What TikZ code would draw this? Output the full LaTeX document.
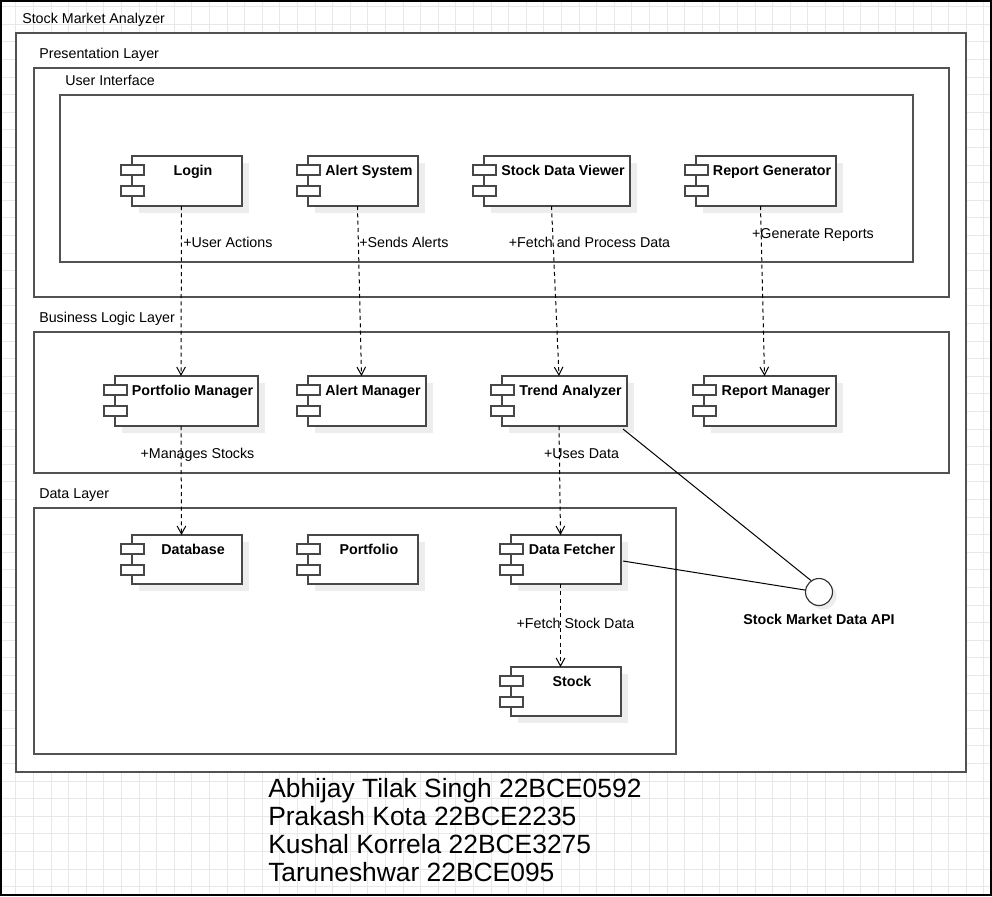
\documentclass[tikz,border=0pt]{standalone}
\usepackage{fontspec}
\setmainfont{Liberation Sans}
\usetikzlibrary{arrows.meta}
\newcommand{\ucomp}[6]{%
  \fill[shadowc] (#2+7,#3+7) rectangle (#4+7,#5+7);
  \node[compbox, minimum width={(#4-#2+11)*0.75pt}, minimum height={(#5-#3)*0.75pt}] (#1) at ({(#2-11+#4)/2},{(#3+#5)/2}) {};
  \draw[compline] (#2,#3) rectangle (#4,#5);
  \draw[compline] (#2-11,#3+9) rectangle (#2+12,#3+19);
  \draw[compline] (#2-11,#3+30) rectangle (#2+12,#3+40);
  \node[complabel] (#1-l) at ({(#2+#4)/2+6},#3+19) {#6};
}
\begin{document}
\begin{tikzpicture}[x=0.75pt,y=-0.75pt,
  frame/.style={draw=black!68, line width=0.85pt, fill=white},
  compline/.style={draw=black!72, line width=0.85pt, fill=white},
  shadowc/.style={fill=black!7},
  compbox/.style={rectangle, inner sep=0pt, outer sep=0pt},
  complabel/.style={anchor=base, inner sep=0pt, font=\fontsize{10.7}{12.8}\selectfont\bfseries},
  txt/.style={inner sep=0pt, font=\fontsize{10.7}{12.8}\selectfont},
  dep/.style={draw=black, line width=0.75pt, dash pattern=on 3pt off 2.5pt, -{Straight Barb[length=6pt,width=6.5pt]}},
  conn/.style={draw=black, line width=0.75pt},
  names/.style={anchor=base west, inner sep=0pt, font=\fontsize{19.8}{21}\selectfont}
]
\useasboundingbox (0,0) rectangle (992,896);
\begin{scope}
\clip (0,0) rectangle (992,896);
\foreach \k in {-1,...,56} \draw[gray!18, line width=0.75pt] (15.9+\k*17.6,0) -- (15.9+\k*17.6,896);
\foreach \k in {0,...,50} \draw[gray!18, line width=0.75pt] (0,6.6+\k*17.6) -- (992,6.6+\k*17.6);
\end{scope}
\draw[black, line width=1.5pt] (1,1) rectangle (991,895);

% frames
\node[txt, anchor=base west] (t-sma) at (22,23) {Stock Market Analyzer};
\draw[frame] (16,33) rectangle (966,772);
\node[txt, anchor=base west] (t-pl) at (39,58) {Presentation Layer};
\draw[frame] (34,68) rectangle (949,297);
\node[txt, anchor=base west] (t-ui) at (65,85) {User Interface};
\draw[frame] (60,95) rectangle (913,262);
\node[txt, anchor=base west] (t-bl) at (39,322) {Business Logic Layer};
\draw[frame] (34,332) rectangle (949,473);
\node[txt, anchor=base west] (t-dl) at (39,498) {Data Layer};
\draw[frame] (34,508) rectangle (676,754);

% components
\ucomp{login}{132}{156}{242}{206}{Login}
\ucomp{alertsys}{308}{156}{418}{206}{Alert System}
\ucomp{sdv}{484}{156}{630}{206}{Stock Data Viewer}
\ucomp{repgen}{696}{156}{836}{206}{Report Generator}
\ucomp{pm}{115}{376}{258}{426}{Portfolio Manager}
\ucomp{am}{308}{376}{426}{426}{Alert Manager}
\ucomp{ta}{502}{376}{627}{426}{Trend Analyzer}
\ucomp{rm}{704}{376}{836}{426}{Report Manager}
\ucomp{db}{132}{535}{242}{584}{Database}
\ucomp{pf}{308}{535}{418}{584}{Portfolio}
\ucomp{df}{511}{535}{621}{584}{Data Fetcher}
\ucomp{stock}{511}{667}{621}{716}{Stock}

% interface
\fill[shadowc] (823,596) circle (13.5);
\node[circle, draw=black!80, fill=white, line width=0.85pt, minimum size={27*0.75pt}, inner sep=0pt] (api) at (819,592) {};
\node[complabel] (api-l) at (819,624) {Stock Market Data API};

% dependencies
\draw[dep] (login.south) -- (pm.north);
\draw[dep] (alertsys.south) -- (am.north);
\draw[dep] (sdv.south) -- (ta.north);
\draw[dep] (repgen.south) -- (rm.north);
\draw[dep] (pm.south) -- (db.north);
\draw[dep] (ta.south) -- (df.north);
\draw[dep] (df.south) -- (stock.north);
\draw[conn] ([shift={(-4,3)}]ta.south east) -- (api.125);
\draw[conn] ([shift={(2,1.5)}]df.east) -- (api.172);

% edge labels
\node[txt, anchor=base west] (l1) at (183,247) {+User Actions};
\node[txt, anchor=base west] (l2) at (359,247) {+Sends Alerts};
\node[txt, anchor=base] (l3) at (589.5,247) {+Fetch and Process Data};
\node[txt, anchor=base] (l4) at (813,238) {+Generate Reports};
\node[txt, anchor=base] (l5) at (197.5,458) {+Manages Stocks};
\node[txt, anchor=base] (l6) at (581.5,458) {+Uses Data};
\node[txt, anchor=base] (l7) at (575.5,628) {+Fetch Stock Data};

% names
\node[names] (n1) at (268,797) {Abhijay Tilak Singh 22BCE0592};
\node[names] (n2) at (268,825.2) {Prakash Kota 22BCE2235};
\node[names] (n3) at (268,853.4) {Kushal Korrela 22BCE3275};
\node[names] (n4) at (268,881.6) {Taruneshwar 22BCE095};
\end{tikzpicture}
\end{document}
